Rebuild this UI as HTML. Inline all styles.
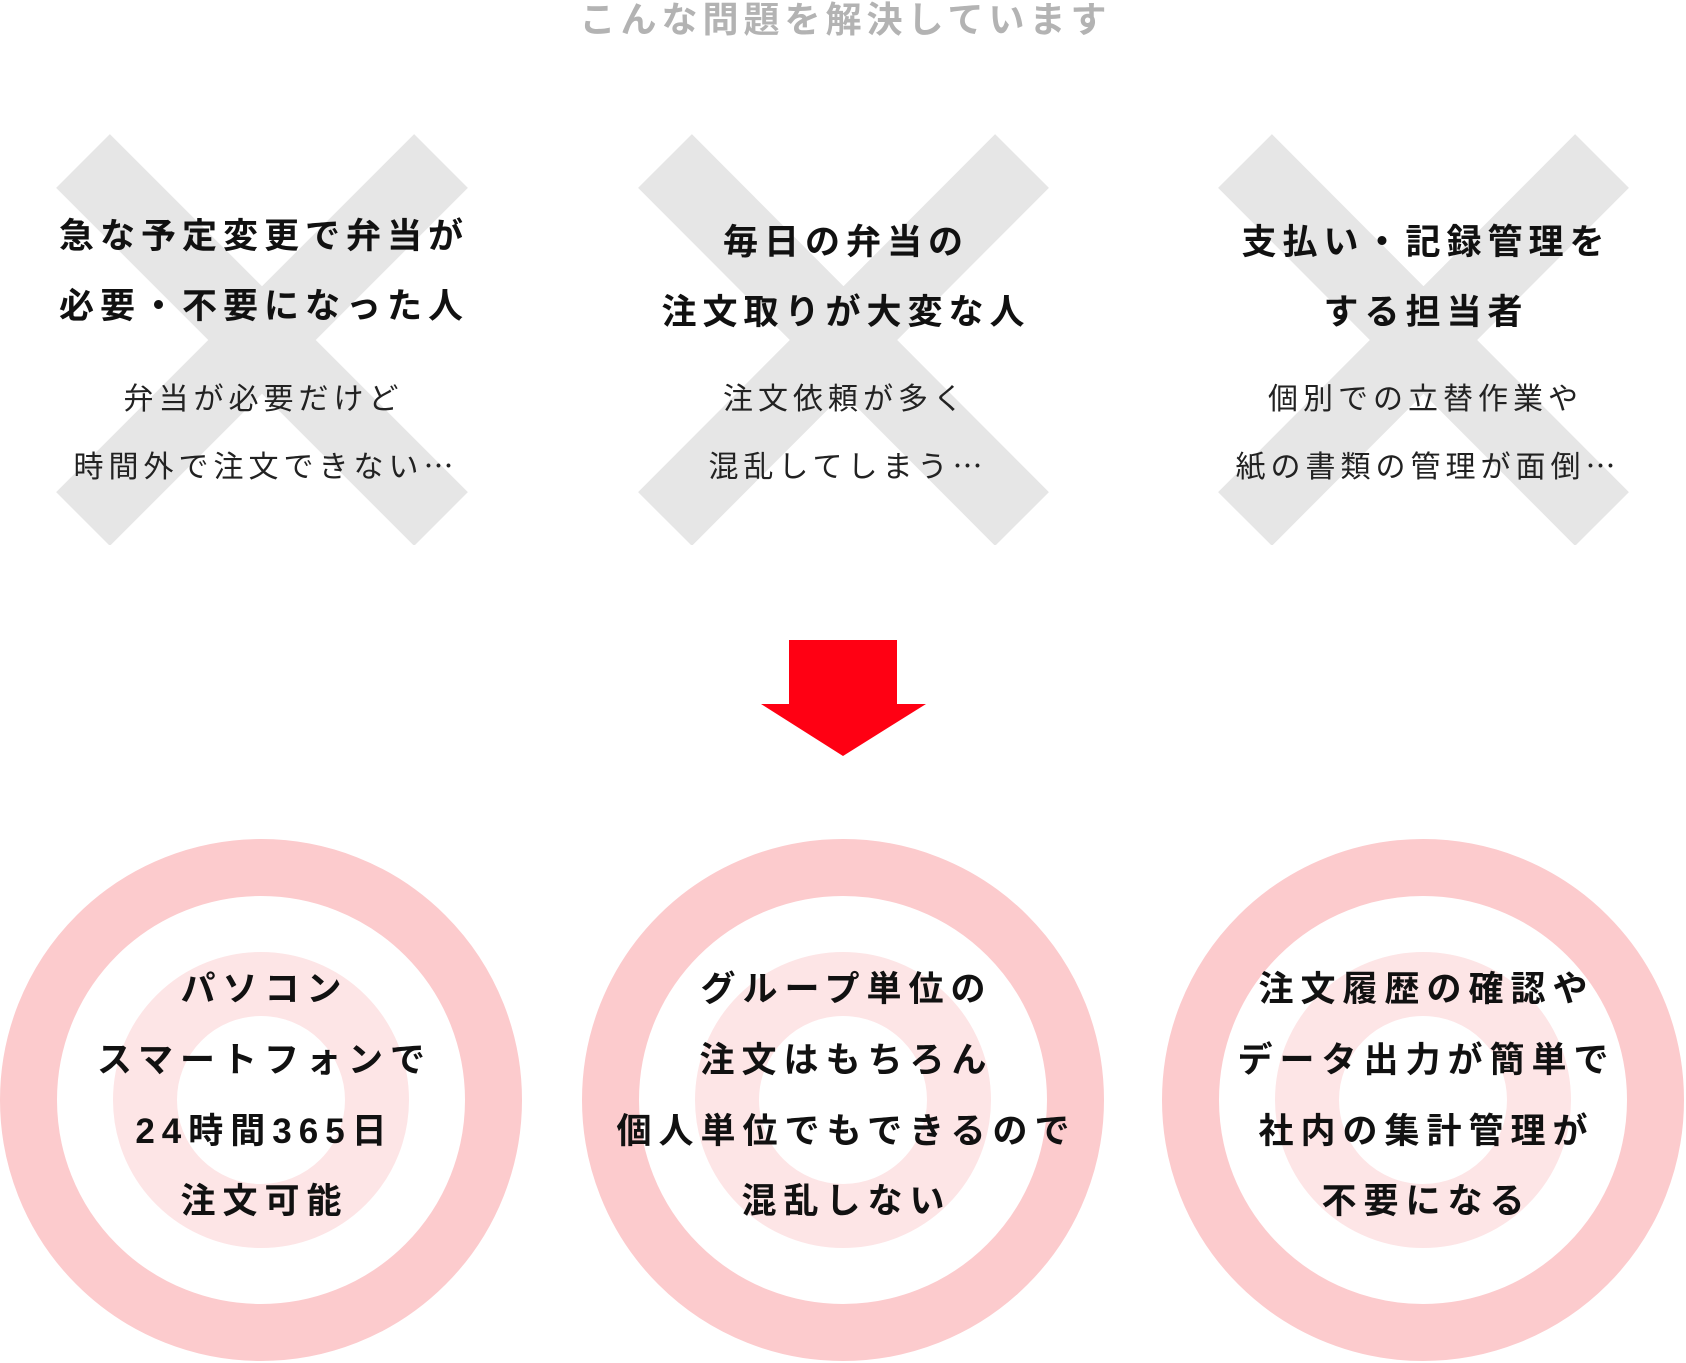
<!DOCTYPE html>
<html><head><meta charset="utf-8"><style>
html,body{margin:0;padding:0;background:#fff;}
body{width:1686px;height:1363px;position:relative;overflow:hidden;font-family:"Liberation Sans","Noto Sans CJK JP",sans-serif;}
.t{position:absolute;width:700px;text-align:center;white-space:nowrap;line-height:1;}
.h{font-weight:bold;font-size:35px;letter-spacing:6px;text-indent:6px;color:#111;}
.s{font-weight:normal;font-size:30px;letter-spacing:5px;text-indent:5px;color:#222;}
.c{font-weight:bold;font-size:35px;letter-spacing:7px;text-indent:7px;color:#111;}
.e{font-family:"Noto Sans CJK JP",sans-serif;letter-spacing:0;}
</style></head><body>
<svg width="1686" height="1363" style="position:absolute;left:0;top:0">
<g fill="none" stroke="#e6e6e6" stroke-width="76">
<path d="M83 161 L441 519 M441 161 L83 519"/>
<path d="M665 161 L1022 519 M1022 161 L665 519"/>
<path d="M1245 161 L1602 519 M1602 161 L1245 519"/>
</g>
<rect x="0" y="0" width="1686" height="134" fill="#fff"/>
<rect x="0" y="545" width="1686" height="60" fill="#fff"/>
<rect x="0" y="0" width="56" height="600" fill="#fff"/>
<polygon points="789,640 897,640 897,704 926,704 843,756 761,704 789,704" fill="#ff0013"/>
<g>
<circle cx="261" cy="1100" r="232.5" fill="none" stroke="#fccbcd" stroke-width="57"/>
<circle cx="261" cy="1100" r="116" fill="none" stroke="#fde5e6" stroke-width="64"/>
<circle cx="843" cy="1100" r="232.5" fill="none" stroke="#fccbcd" stroke-width="57"/>
<circle cx="843" cy="1100" r="116" fill="none" stroke="#fde5e6" stroke-width="64"/>
<circle cx="1423" cy="1100" r="232.5" fill="none" stroke="#fccbcd" stroke-width="57"/>
<circle cx="1423" cy="1100" r="116" fill="none" stroke="#fde5e6" stroke-width="64"/>
</g>
</svg>
<div class="t" style="left:493px;top:2px;font-size:36px;font-weight:bold;letter-spacing:5px;text-indent:5px;color:#b3b3b3">こんな問題を解決しています</div>

<div class="t h" style="left:-89px;top:219px">急な予定変更で弁当が</div>
<div class="t h" style="left:-89px;top:289px">必要・不要になった人</div>
<div class="t s" style="left:-89px;top:385px">弁当が必要だけど</div>
<div class="t s" style="left:-89px;top:449px">時間外で注文できない<span class="e">…</span></div>

<div class="t h" style="left:493px;top:225px">毎日の弁当の</div>
<div class="t h" style="left:493px;top:295px">注文取りが大変な人</div>
<div class="t s" style="left:493px;top:385px">注文依頼が多く</div>
<div class="t s" style="left:493px;top:449px">混乱してしまう<span class="e">…</span></div>

<div class="t h" style="left:1073px;top:225px">支払い・記録管理を</div>
<div class="t h" style="left:1073px;top:295px">する担当者</div>
<div class="t s" style="left:1073px;top:385px">個別での立替作業や</div>
<div class="t s" style="left:1073px;top:449px">紙の書類の管理が面倒<span class="e">…</span></div>

<div class="t c" style="left:-89px;top:972px">パソコン</div>
<div class="t c" style="left:-89px;top:1043px">スマートフォンで</div>
<div class="t c" style="left:-89px;top:1114px">24時間365日</div>
<div class="t c" style="left:-89px;top:1184px">注文可能</div>

<div class="t c" style="left:493px;top:972px">グループ単位の</div>
<div class="t c" style="left:493px;top:1043px">注文はもちろん</div>
<div class="t c" style="left:493px;top:1114px">個人単位でもできるので</div>
<div class="t c" style="left:493px;top:1184px">混乱しない</div>

<div class="t c" style="left:1073px;top:972px">注文履歴の確認や</div>
<div class="t c" style="left:1073px;top:1043px">データ出力が簡単で</div>
<div class="t c" style="left:1073px;top:1114px">社内の集計管理が</div>
<div class="t c" style="left:1073px;top:1184px">不要になる</div>
</body></html>
